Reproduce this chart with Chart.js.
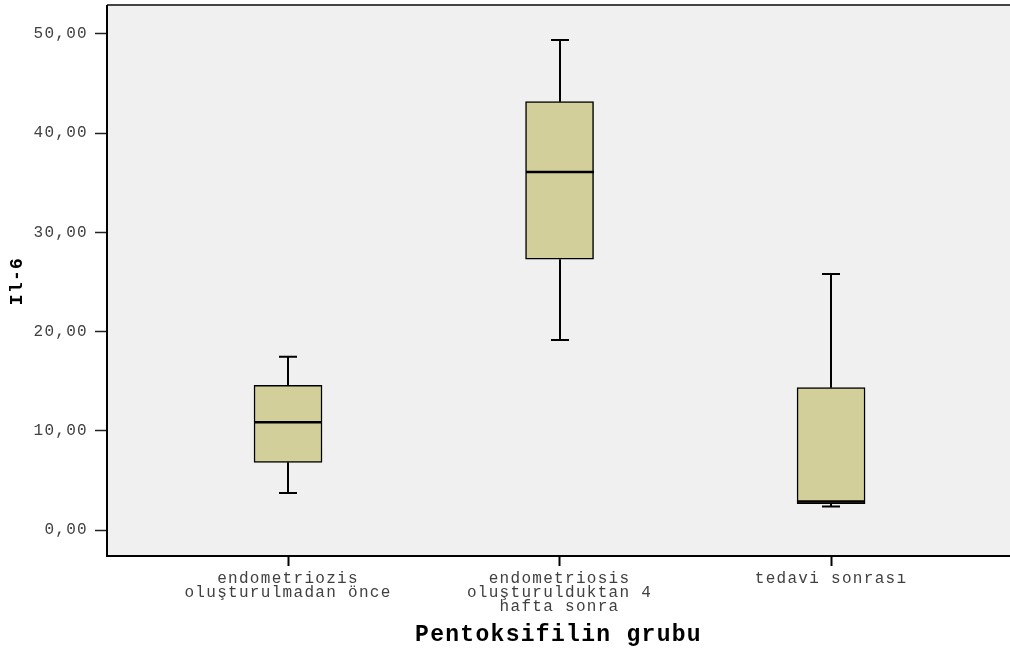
<!DOCTYPE html>
<html>
<head>
<meta charset="utf-8">
<title>Il-6 – Pentoksifilin grubu</title>
<script src="https://cdn.jsdelivr.net/npm/chart.js@4/dist/chart.umd.min.js"></script>
<style>
  html, body { margin: 0; padding: 0; background: #ffffff; }
  canvas { display: block; }
</style>
</head>
<body>
<canvas id="chart" width="1010" height="651"></canvas>
<script>
// Group labels (multi-line) and their positions on the x axis
const groupLabels = [
  ['endometriozis', 'oluşturulmadan önce'],
  ['endometriosis', 'oluşturulduktan 4', 'hafta sonra'],
  ['tedavi sonrası']
];
const groupPositions = [1, 2, 3];

// Box plot summary per group
const whiskerLow  = [3.73, 19.15, 2.37];
const quartile1   = [6.82, 27.29, 2.65];
const medianValue = [10.85, 36.09, 2.87];
const quartile3   = [14.59, 43.18, 14.35];
const whiskerHigh = [17.47, 49.40, 25.80];

// Y axis ticks
const yTicks = [0, 10, 20, 30, 40, 50];

const MONO = '"Liberation Mono", "Courier New", monospace';

// Plot background, top frame line and the wide typewriter letter spacing
const frameBackground = {
  id: 'frameBackground',
  beforeDraw(chart) {
    const { ctx, chartArea: a } = chart;
    ctx.letterSpacing = '1.3px';
    ctx.save();
    ctx.fillStyle = '#f0f0f0';
    ctx.fillRect(a.left, a.top, a.right - a.left, a.bottom - a.top);
    ctx.strokeStyle = '#444444';
    ctx.lineWidth = 2;
    ctx.beginPath();
    ctx.moveTo(a.left, a.top - 1);
    ctx.lineTo(a.right, a.top - 1);
    ctx.stroke();
    ctx.restore();
  }
};

// Whiskers, caps and median lines drawn over the boxes
const boxDetails = {
  id: 'boxDetails',
  afterDatasetsDraw(chart) {
    const { ctx } = chart;
    const xs = chart.scales.x, ys = chart.scales.y;
    const meta = chart.getDatasetMeta(0);
    ctx.save();
    ctx.strokeStyle = '#000000';
    ctx.lineCap = 'butt';
    groupPositions.forEach((pos, i) => {
      const cx = Math.round(xs.getPixelForValue(pos));
      const bar = meta.data[i];
      const half = bar.width / 2;
      const capHalf = 9;
      const yLo = ys.getPixelForValue(whiskerLow[i]);
      const yQ1 = ys.getPixelForValue(quartile1[i]);
      const yQ3 = ys.getPixelForValue(quartile3[i]);
      const yHi = ys.getPixelForValue(whiskerHigh[i]);
      const yMed = ys.getPixelForValue(medianValue[i]);

      ctx.lineWidth = 2;
      ctx.beginPath();
      // upper whisker
      ctx.moveTo(cx, yQ3);
      ctx.lineTo(cx, yHi);
      ctx.moveTo(cx - capHalf, yHi);
      ctx.lineTo(cx + capHalf, yHi);
      // lower whisker
      ctx.moveTo(cx, yQ1);
      ctx.lineTo(cx, yLo);
      ctx.moveTo(cx - capHalf, yLo);
      ctx.lineTo(cx + capHalf, yLo);
      ctx.stroke();

      // median
      ctx.lineWidth = 2.5;
      ctx.beginPath();
      ctx.moveTo(cx - half, yMed);
      ctx.lineTo(cx + half, yMed);
      ctx.stroke();
    });
    ctx.restore();
  }
};

new Chart(document.getElementById('chart'), {
  type: 'bar',
  data: {
    datasets: [{
      data: groupPositions.map((p, i) => ({ x: p, y: [quartile1[i], quartile3[i]] })),
      backgroundColor: '#d3cf9a',
      borderColor: '#000000',
      borderWidth: 1.5,
      borderSkipped: false,
      barThickness: 68
    }]
  },
  plugins: [frameBackground, boxDetails],
  options: {
    responsive: false,
    animation: false,
    devicePixelRatio: 1,
    layout: { padding: { top: 6, right: 0, bottom: 0, left: 0 } },
    plugins: {
      legend: { display: false },
      tooltip: { enabled: false }
    },
    scales: {
      x: {
        type: 'linear',
        offset: false,
        min: 0.3333,
        max: 3.659,
        afterFit(scale) {
          scale.height = 95;
          scale.paddingLeft = 0;
          scale.paddingRight = 0;
        },
        afterBuildTicks(scale) { scale.ticks = groupPositions.map(v => ({ value: v })); },
        border: { display: true, color: '#000000', width: 2 },
        grid: {
          display: true,
          offset: false,
          drawOnChartArea: false,
          drawTicks: true,
          tickLength: 10,
          tickColor: '#000000',
          tickWidth: 2
        },
        ticks: {
          autoSkip: false,
          maxRotation: 0,
          padding: 6,
          color: '#404040',
          font: { family: MONO, size: 16, lineHeight: '14px' },
          callback: (value) => groupLabels[groupPositions.indexOf(value)]
        },
        title: {
          display: true,
          text: 'Pentoksifilin grubu',
          color: '#000000',
          font: { family: MONO, size: 23, weight: 'bold' },
          padding: { top: 0, bottom: 2 }
        }
      },
      y: {
        type: 'linear',
        min: -2.62,
        max: 52.82,
        afterFit(scale) {
          scale.width = 107;
          scale.paddingTop = 0;
          scale.paddingBottom = 0;
        },
        afterBuildTicks(scale) { scale.ticks = yTicks.map(v => ({ value: v })); },
        border: { display: true, color: '#000000', width: 2 },
        grid: {
          display: true,
          drawOnChartArea: false,
          drawTicks: true,
          tickLength: 12,
          tickColor: '#222222',
          tickWidth: 1.5
        },
        ticks: {
          padding: 7,
          color: '#404040',
          font: { family: MONO, size: 16 },
          callback: (value) => value.toFixed(2).replace('.', ',')
        },
        title: {
          display: true,
          text: 'Il-6',
          color: '#000000',
          font: { family: MONO, size: 18, weight: 'bold' },
          padding: { top: 7, bottom: 0 }
        }
      }
    }
  }
});
</script>
</body>
</html>
